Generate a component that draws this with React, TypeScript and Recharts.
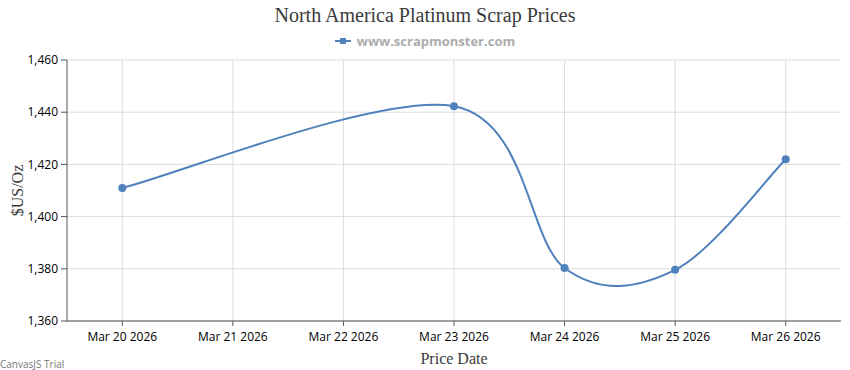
import { LineChart, Line, XAxis, YAxis, CartesianGrid } from 'recharts'

const priceDays = [20, 23, 24, 25, 26]
const prices = [1411, 1442.3, 1380.3, 1379.6, 1422]
const tickDays = [20, 21, 22, 23, 24, 25, 26]
const tickLabels = ['Mar 20 2026', 'Mar 21 2026', 'Mar 22 2026', 'Mar 23 2026', 'Mar 24 2026', 'Mar 25 2026', 'Mar 26 2026']
const priceTicks = [1360, 1380, 1400, 1420, 1440, 1460]

const BLUE = '#4f81bc'

// canvasjs-style spline: control points at p ± (next - prev) / 6
function canvasSpline(context: any) {
  let pts: [number, number][] = []
  return {
    areaStart() {},
    areaEnd() {},
    lineStart() {
      pts = []
    },
    lineEnd() {
      if (!pts.length) return
      context.moveTo(pts[0][0], pts[0][1])
      for (let i = 1; i < pts.length; i++) {
        const a = pts[i - 1]
        const b = pts[i]
        const pa = pts[Math.max(i - 2, 0)]
        const nb = pts[Math.min(i + 1, pts.length - 1)]
        const c1x = a[0] + (b[0] - pa[0]) / 6
        const c1y = a[1] + (b[1] - pa[1]) / 6
        const c2x = b[0] - (nb[0] - a[0]) / 6
        const c2y = b[1] - (nb[1] - a[1]) / 6
        context.bezierCurveTo(c1x, c1y, c2x, c2y, b[0], b[1])
      }
    },
    point(x: number, y: number) {
      pts.push([+x, +y])
    },
  }
}

const data = priceDays.map((d, i) => ({ day: d, price: prices[i] }))

const tickFont = { fontFamily: '"Open Sans", sans-serif', fontSize: 12, fill: '#000' }

export default function App() {
  return (
    <div style={{ position: 'absolute', left: 0, top: 0, width: 850, height: 370, background: '#fff' }}>
      <div
        style={{
          position: 'absolute',
          top: 4,
          width: 850,
          textAlign: 'center',
          fontFamily: '"Liberation Serif", serif',
          fontSize: 20,
          color: '#3a3a3a',
        }}
      >
        North America Platinum Scrap Prices
      </div>
      <div
        style={{
          position: 'absolute',
          top: 32,
          width: 850,
          display: 'flex',
          justifyContent: 'center',
          alignItems: 'center',
          gap: 6,
          fontFamily: '"Open Sans", sans-serif',
          fontWeight: 'bold',
          fontSize: 13,
          color: '#acacac',
        }}
      >
        <svg width={16} height={10}>
          <line x1={0} y1={5} x2={16} y2={5} stroke={BLUE} strokeWidth={2} />
          <rect x={5} y={2} width={6} height={6} fill={BLUE} />
        </svg>
        www.scrapmonster.com
      </div>
      <LineChart width={850} height={370} data={data} margin={{ top: 60, right: 9, left: 0, bottom: 0 }}>
        <CartesianGrid stroke="#dcdcdc" horizontalValues={priceTicks} verticalValues={tickDays} />
        <XAxis
          dataKey="day"
          type="number"
          domain={[19.5, 26.5]}
          ticks={tickDays}
          tickFormatter={(d: number) => tickLabels[tickDays.indexOf(d)]}
          height={49}
          stroke="#555"
          tickSize={5}
          tick={tickFont}
          tickMargin={6}
          interval={0}
          label={{ value: 'Price Date', position: 'insideBottom', offset: 6, style: { fontFamily: '"Liberation Serif", serif', fontSize: 16, fill: '#3a3a3a' } }}
        />
        <YAxis
          type="number"
          domain={[1360, 1460]}
          ticks={priceTicks}
          tickFormatter={(v: number) => v.toLocaleString('en-US')}
          width={67}
          stroke="#555"
          tickSize={6}
          tick={tickFont}
          tickMargin={3}
          interval={0}
          label={{ value: '$US/Oz', angle: -90, position: 'insideLeft', offset: 17, style: { fontFamily: '"Liberation Serif", serif', fontSize: 16, fill: '#3a3a3a', textAnchor: 'middle' } }}
        />
        <Line
          type={canvasSpline as any}
          dataKey="price"
          stroke={BLUE}
          strokeWidth={2}
          dot={{ r: 4, fill: BLUE, stroke: BLUE, strokeWidth: 0 }}
          isAnimationActive={false}
        />
      </LineChart>
      <div
        style={{
          position: 'absolute',
          left: 0,
          top: 357,
          fontFamily: '"Open Sans", sans-serif',
          fontSize: 10,
          color: '#777',
        }}
      >
        CanvasJS Trial
      </div>
    </div>
  )
}
